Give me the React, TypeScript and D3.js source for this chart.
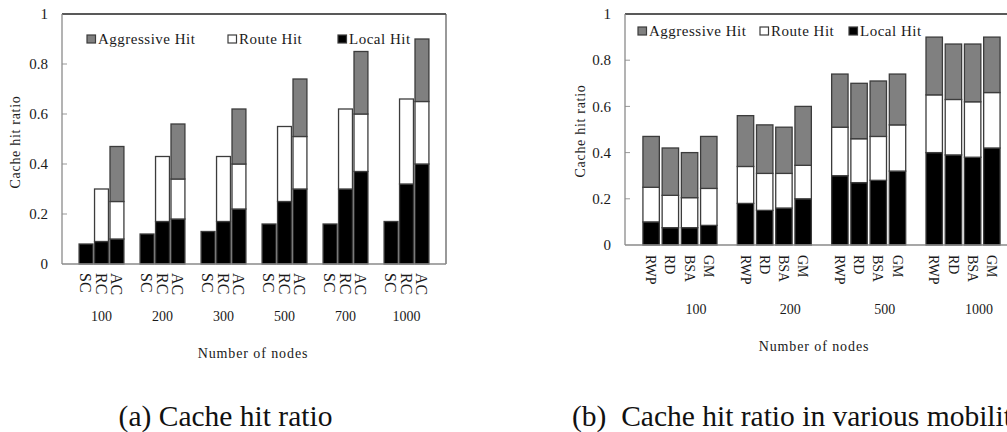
import React from "react";
import * as d3 from "d3";

// ---------- Data ----------
const groupsA = ["100", "200", "300", "500", "700", "1000"];
const schemesA = ["SC", "RC", "AC"];
// component values per group, per scheme
const localA = [
  [0.08, 0.09, 0.10],
  [0.12, 0.17, 0.18],
  [0.13, 0.17, 0.22],
  [0.16, 0.25, 0.30],
  [0.16, 0.30, 0.37],
  [0.17, 0.32, 0.40],
];
const routeA = [
  [0, 0.21, 0.15],
  [0, 0.26, 0.16],
  [0, 0.26, 0.18],
  [0, 0.30, 0.21],
  [0, 0.32, 0.23],
  [0, 0.34, 0.25],
];
const aggrA = [
  [0, 0, 0.22],
  [0, 0, 0.22],
  [0, 0, 0.22],
  [0, 0, 0.23],
  [0, 0, 0.25],
  [0, 0, 0.25],
];

const groupsB = ["100", "200", "500", "1000"];
const mobilityB = ["RWP", "RD", "BSA", "GM"];
const localB = [
  [0.10, 0.075, 0.075, 0.085],
  [0.18, 0.15, 0.16, 0.20],
  [0.30, 0.27, 0.28, 0.32],
  [0.40, 0.39, 0.38, 0.42],
];
const routeB = [
  [0.15, 0.14, 0.13, 0.16],
  [0.16, 0.16, 0.15, 0.145],
  [0.21, 0.19, 0.19, 0.20],
  [0.25, 0.24, 0.24, 0.24],
];
const aggrB = [
  [0.22, 0.205, 0.195, 0.225],
  [0.22, 0.21, 0.20, 0.255],
  [0.23, 0.24, 0.24, 0.22],
  [0.25, 0.24, 0.25, 0.24],
];

const yTicks = [0, 0.2, 0.4, 0.6, 0.8, 1];
const yTickLabels = ["0", "0.2", "0.4", "0.6", "0.8", "1"];
const seriesNames = ["Aggressive Hit", "Route Hit", "Local Hit"];
const seriesFills = ["#808080", "#ffffff", "#000000"];

const FONT = "'Liberation Serif', 'Times New Roman', serif";
const TXT = "#1a1a1a";

type PanelProps = {
  groups: string[];
  cats: string[];
  local: number[][];
  route: number[][];
  aggr: number[][];
  left: number;
  right: number;
  top: number;
  bottom: number;
  padInner: number;
  padOuter: number;
  subPad: number;
  catFont: number;
  catGap: number;
  groupLabelY: number;
  groupLabelShift: number;
  groupFont: number;
  xTitleX: number;
  xTitleY: number;
  yTitleX: number;
  yTitleY: number;
  legendX: number[];
  legendY: number;
};

function Panel(p: PanelProps) {
  const x0 = d3
    .scaleBand<string>()
    .domain(p.groups)
    .range([p.left, p.right])
    .paddingInner(p.padInner)
    .paddingOuter(p.padOuter);
  const x1 = d3
    .scaleBand<string>()
    .domain(p.cats)
    .range([0, x0.bandwidth()])
    .paddingInner(p.subPad);
  const y = d3.scaleLinear().domain([0, 1]).range([p.bottom, p.top]);

  const bars: React.ReactNode[] = [];
  p.groups.forEach((g, gi) => {
    p.cats.forEach((c, ci) => {
      const comps = [p.local[gi][ci], p.route[gi][ci], p.aggr[gi][ci]];
      const fills = [seriesFills[2], seriesFills[1], seriesFills[0]];
      let base = 0;
      comps.forEach((v, si) => {
        if (v <= 0) return;
        const y0 = y(base);
        const y1 = y(base + v);
        bars.push(
          <rect
            key={`${g}-${c}-${si}`}
            x={(x0(g) ?? 0) + (x1(c) ?? 0)}
            y={y1}
            width={x1.bandwidth()}
            height={y0 - y1}
            fill={fills[si]}
            stroke="#3c3c3c"
            strokeWidth={1.3}
          />
        );
        base += v;
      });
    });
  });

  return (
    <g>
      {/* frame */}
      <line x1={p.left} x2={p.right} y1={p.top} y2={p.top} stroke="#222" strokeWidth={1.3} />
      <line x1={p.right} x2={p.right} y1={p.top} y2={p.bottom} stroke="#555" strokeWidth={1.2} />
      {/* y ticks */}
      {yTicks.map((t, i) => (
        <g key={`yt${i}`}>
          {t > 0 && t < 1 && (
            <line x1={p.left} x2={p.left + 5} y1={y(t)} y2={y(t)} stroke="#999" strokeWidth={1} />
          )}
          <text
            x={p.left - 14}
            y={y(t)}
            dy="0.35em"
            textAnchor="end"
            fontFamily={FONT}
            fontSize={15}
            fill={TXT}
          >
            {yTickLabels[i]}
          </text>
        </g>
      ))}
      {bars}
      {/* axes */}
      <line x1={p.left} x2={p.left} y1={p.top} y2={p.bottom} stroke="#8a8a8a" strokeWidth={1.3} />
      <line x1={p.left} x2={p.right} y1={p.bottom} y2={p.bottom} stroke="#8a8a8a" strokeWidth={1.3} />
      {/* category labels */}
      {p.groups.map((g) =>
        p.cats.map((c) => {
          const cx = (x0(g) ?? 0) + (x1(c) ?? 0) + x1.bandwidth() / 2;
          return (
            <text
              key={`cl-${g}-${c}`}
              transform={`translate(${cx},${p.bottom + p.catGap}) rotate(90)`}
              dy="0.35em"
              textAnchor="start"
              fontFamily={FONT}
              fontSize={p.catFont}
              fill={TXT}
            >
              {c}
            </text>
          );
        })
      )}
      {/* group labels */}
      {p.groups.map((g) => (
        <text
          key={`gl-${g}`}
          x={(x0(g) ?? 0) + x0.bandwidth() / 2 + p.groupLabelShift}
          y={p.groupLabelY}
          textAnchor="middle"
          fontFamily={FONT}
          fontSize={p.groupFont}
          fill={TXT}
        >
          {g}
        </text>
      ))}
      {/* x title */}
      <text
        x={p.xTitleX}
        y={p.xTitleY}
        textAnchor="middle"
        fontFamily={FONT}
        fontSize={14}
        letterSpacing={0.9}
        fill={TXT}
      >
        Number of nodes
      </text>
      {/* y title */}
      <text
        transform={`translate(${p.yTitleX},${p.yTitleY}) rotate(-90)`}
        dy="0.35em"
        textAnchor="middle"
        fontFamily={FONT}
        fontSize={14}
        letterSpacing={0.7}
        fill={TXT}
      >
        Cache hit ratio
      </text>
      {/* legend */}
      {seriesNames.map((n, i) => (
        <g key={`lg${i}`}>
          <rect
            x={p.legendX[i]}
            y={p.legendY - 9}
            width={8.5}
            height={8}
            fill={seriesFills[i]}
            stroke="#3c3c3c"
            strokeWidth={1.2}
          />
          <text
            x={p.legendX[i] + 11}
            y={p.legendY}
            fontFamily={FONT}
            fontSize={15}
            letterSpacing={0.5}
            fill={TXT}
          >
            {n}
          </text>
        </g>
      ))}
    </g>
  );
}

export default function App() {
  return (
    <svg
      width={1007}
      height={432}
      style={{ position: "absolute", left: 0, top: 0, background: "#fff" }}
    >
      <rect width={1007} height={432} fill="#fff" />
      <Panel
        groups={groupsA}
        cats={schemesA}
        local={localA}
        route={routeA}
        aggr={aggrA}
        left={62}
        right={446}
        top={14}
        bottom={264}
        padInner={0.265}
        padOuter={0.28}
        subPad={0.1}
        catFont={16}
        catGap={9}
        groupLabelY={321}
        groupLabelShift={0}
        groupFont={14}
        xTitleX={253}
        xTitleY={358}
        yTitleX={15}
        yTitleY={142}
        legendX={[87, 228, 338]}
        legendY={44}
      />
      <Panel
        groups={groupsB}
        cats={mobilityB}
        local={localB}
        route={routeB}
        aggr={aggrB}
        left={625}
        right={1018}
        top={14}
        bottom={245}
        padInner={0.215}
        padOuter={0.19}
        subPad={0.146}
        catFont={14}
        catGap={10}
        groupLabelY={314}
        groupLabelShift={16}
        groupFont={14}
        xTitleX={814}
        xTitleY={351}
        yTitleX={580}
        yTitleY={131}
        legendX={[638, 760, 849]}
        legendY={36}
      />
      <text x={225.5} y={426} textAnchor="middle" fontFamily={FONT} fontSize={29.5} fill="#111">
        (a) Cache hit ratio
      </text>
      <text x={572} y={426} textAnchor="start" fontFamily={FONT} fontSize={29.5} fill="#111" style={{ whiteSpace: "pre" }}>
        {"(b)  Cache hit ratio in various mobility"}
      </text>
    </svg>
  );
}
